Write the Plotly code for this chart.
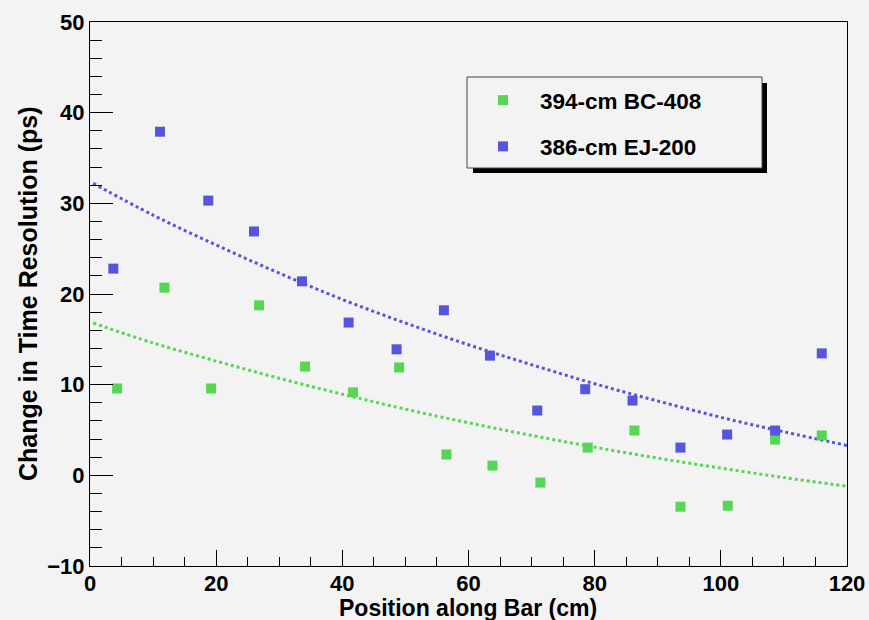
import plotly.graph_objects as go

# ---- data ----
pos_ej = [3.7, 11.1, 18.75, 26.0, 33.6, 41.0, 48.6, 56.1, 63.4, 70.9, 78.5, 86.0, 93.6, 101.0, 108.6, 116.0]
res_ej = [22.8, 37.9, 30.3, 26.9, 21.4, 16.85, 13.9, 18.2, 13.2, 7.15, 9.5, 8.25, 3.06, 4.5, 4.94, 13.45]

pos_bc = [4.3, 11.8, 19.2, 26.8, 34.1, 41.7, 49.0, 56.5, 63.8, 71.4, 78.9, 86.3, 93.6, 101.1, 108.6, 116.0]
res_bc = [9.58, 20.7, 9.58, 18.75, 12.0, 9.15, 11.9, 2.3, 1.07, -0.8, 3.06, 4.94, -3.46, -3.35, 3.94, 4.4]

fit_x = [0.5, 10, 20, 30, 40, 50, 60, 70, 80, 90, 100, 110, 120]
fit_ej = [32.2, 28.7, 25.4, 22.3, 19.4, 16.8, 14.4, 12.2, 10.1, 8.2, 6.4, 4.8, 3.3]
fit_bc = [16.8, 14.6, 12.6, 10.7, 8.95, 7.3, 5.8, 4.4, 3.1, 1.9, 0.8, -0.25, -1.2]

label_bc = "394-cm BC-408"
label_ej = "386-cm EJ-200"
x_title = "Position along Bar (cm)"
y_title = "Change in Time Resolution (ps)"

BLUE = "#5555dd"
GREEN = "#55d655"
BG = "#f3f3f3"
FONT = "Liberation Sans"

fig = go.Figure()
fig.add_trace(go.Scatter(x=fit_x, y=fit_bc, mode="lines", line=dict(color=GREEN, width=3, dash="dot", shape="spline"),
                         showlegend=False, hoverinfo="skip"))
fig.add_trace(go.Scatter(x=fit_x, y=fit_ej, mode="lines", line=dict(color=BLUE, width=3, dash="dot", shape="spline"),
                         showlegend=False, hoverinfo="skip"))
fig.add_trace(go.Scatter(x=pos_bc, y=res_bc, mode="markers", name=label_bc, legendgroup="a",
                         marker=dict(symbol="square", size=10, color=GREEN, line=dict(width=0))))
fig.add_trace(go.Scatter(x=pos_ej, y=res_ej, mode="markers", name=label_ej, legendgroup="b",
                         marker=dict(symbol="square", size=10, color=BLUE, line=dict(width=0))))

W, H = 869, 620
L, R, T, B = 90, 22, 22, 54
pw, ph = W - L - R, H - T - B


def px(x):
    return (x - L) / pw


def py(y):
    return (H - B - y) / ph


shapes = [
    dict(type="rect", xref="paper", yref="paper", x0=px(473), x1=px(767), y0=py(173), y1=py(83),
         fillcolor="black", line=dict(width=0), layer="above"),
    dict(type="rect", xref="paper", yref="paper", x0=px(467), x1=px(762), y0=py(168), y1=py(77),
         fillcolor=BG, line=dict(color="#444444", width=1), layer="above"),
]

annotations = [
    dict(text="<b>%s</b>" % x_title, xref="paper", yref="paper", x=px(468), y=py(608),
         xanchor="center", yanchor="middle", showarrow=False, font=dict(family=FONT, size=23, color="black")),
    dict(text="<b>%s</b>" % y_title, xref="paper", yref="paper", x=px(28), y=py(294),
         xanchor="center", yanchor="middle", textangle=-90, showarrow=False,
         font=dict(family=FONT, size=25, color="black")),
]

fig.update_layout(
    width=W, height=H, template="none",
    margin=dict(l=L, r=R, t=T, b=B, autoexpand=False),
    paper_bgcolor=BG, plot_bgcolor=BG,
    font=dict(family=FONT, color="black"),
    shapes=shapes, annotations=annotations,
    showlegend=True,
    legend=dict(x=px(466), y=py(79), xanchor="left", yanchor="top", bgcolor="rgba(0,0,0,0)",
                borderwidth=0, itemwidth=64, tracegroupgap=14, traceorder="grouped",
                font=dict(family=FONT, size=22.5, color="black", weight="bold")),
)
fig.update_xaxes(range=[0, 120], dtick=20, tick0=0, showgrid=False, zeroline=False,
                 showline=True, linecolor="black", linewidth=1, mirror=True,
                 ticks="inside", ticklen=16, tickwidth=1, tickcolor="black",
                 minor=dict(ticks="inside", dtick=5, ticklen=9, tickwidth=1, tickcolor="black", showgrid=False),
                 tickfont=dict(family=FONT, size=22, color="black", weight="bold"),
                 ticklabelstandoff=-2, automargin=False)
fig.update_yaxes(range=[-10, 50], dtick=10, tick0=0, showgrid=False, zeroline=False,
                 showline=True, linecolor="black", linewidth=1, mirror=True,
                 ticks="inside", ticklen=23, tickwidth=1, tickcolor="black",
                 minor=dict(ticks="inside", dtick=2, ticklen=12, tickwidth=1, tickcolor="black", showgrid=False),
                 tickfont=dict(family=FONT, size=22, color="black", weight="bold"),
                 automargin=False)

fig.write_html("out.html")
